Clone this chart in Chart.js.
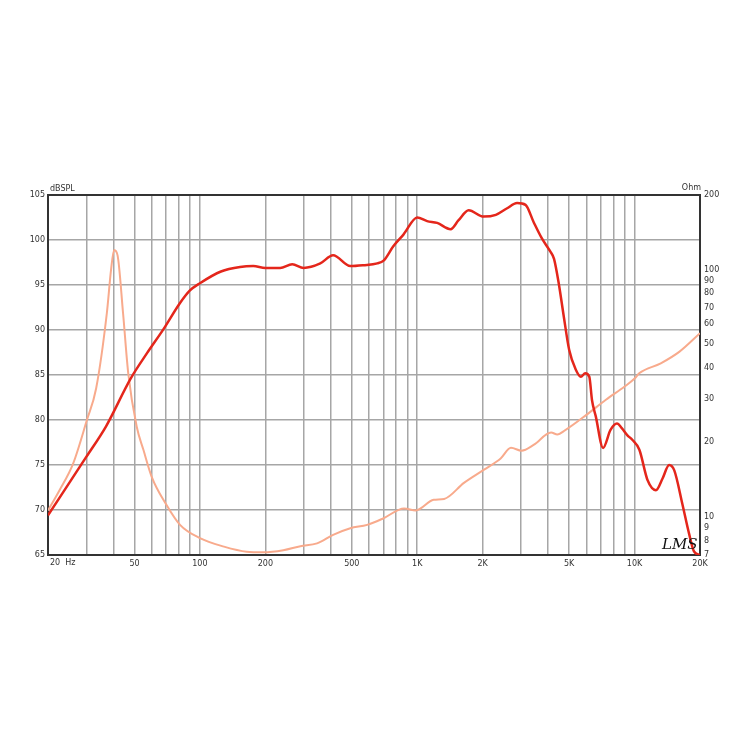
<!DOCTYPE html>
<html>
<head>
<meta charset="utf-8">
<script src="https://cdn.jsdelivr.net/npm/chart.js@4/dist/chart.umd.min.js"></script>
<style>
  html, body { margin: 0; padding: 0; background: #fff; }
  #wrap { width: 750px; height: 750px; }
</style>
</head>
<body>
<div id="wrap"><canvas id="chartCanvas" width="750" height="750"></canvas></div>
<script>
// SPL curve (left axis, dB)
const splFreq = [20, 30, 37, 48, 57, 68, 81, 90, 100, 125, 153, 176, 200, 234, 266, 300, 358, 410, 492, 566, 655, 700, 776, 864, 1000, 1110, 1235, 1425, 1550, 1724, 2020, 2300, 2580, 2880, 3150, 3430, 3740, 4100, 4260, 4490, 4710, 5000, 5360, 5660, 5930, 6190, 6370, 6630, 7160, 7750, 8300, 8730, 9270, 9760, 10520, 11480, 12540, 13450, 14420, 15230, 16580, 17800, 18760, 20000];
const splValues = [69.4, 75.9, 79.3, 84.6, 87.4, 90.1, 93.0, 94.4, 95.2, 96.5, 97.0, 97.1, 96.9, 96.9, 97.3, 96.9, 97.4, 98.3, 97.1, 97.2, 97.4, 97.7, 99.3, 100.6, 102.5, 102.1, 101.9, 101.2, 102.2, 103.3, 102.6, 102.8, 103.5, 104.1, 103.9, 102.0, 100.2, 98.7, 97.9, 95.0, 91.7, 87.8, 85.6, 84.8, 85.2, 84.8, 82.2, 80.4, 76.9, 78.9, 79.6, 79.1, 78.3, 77.8, 76.7, 73.3, 72.2, 73.5, 75.0, 74.4, 70.7, 67.4, 65.4, 65.0];

// Impedance curve (right axis, Ohm)
const impFreq = [20, 22.6, 26.1, 30.2, 33.3, 37.3, 39.0, 40.3, 41.8, 44.3, 46.8, 51.2, 55, 60, 70, 81, 100, 129, 164, 196, 242, 290, 346, 410, 492, 588, 700, 870, 985, 1190, 1330, 1640, 2030, 2420, 2700, 3020, 3430, 4130, 4410, 4800, 6000, 7380, 9000, 10030, 10500, 13200, 16100, 20000];
const impValues = [10.6, 12.8, 16.4, 24.6, 33, 66.5, 99.5, 119.9, 114, 66.5, 38, 23.1, 18.6, 14.5, 11.2, 9.27, 8.19, 7.57, 7.22, 7.18, 7.32, 7.6, 7.8, 8.44, 8.98, 9.27, 9.86, 10.8, 10.6, 11.7, 11.8, 13.7, 15.5, 17.2, 19.0, 18.5, 19.5, 21.9, 21.5, 22.4, 25.8, 29.7, 33.6, 36.3, 38, 41.7, 46.5, 55.2];

// tick positions
const freqTicks = [20, 30, 40, 50, 60, 70, 80, 90, 100, 200, 300, 400, 500, 600, 700, 800, 900, 1000, 2000, 3000, 4000, 5000, 6000, 7000, 8000, 9000, 10000, 20000];
const freqLabels = { 50: "50", 100: "100", 200: "200", 500: "500", 1000: "1K", 2000: "2K", 5000: "5K", 10000: "10K", 20000: "20K" };
const ohmTicks = [7, 8, 9, 10, 20, 30, 40, 50, 60, 70, 80, 90, 100, 200];

const tickFont = { family: "DejaVu Sans", size: 8 };
const tickColor = "#333";

// 額外文字：軸標題與簽名
const labelsPlugin = {
	id: "extraLabels",
	afterDraw(chart) {
		const c = chart.ctx;
		const area = chart.chartArea;
		c.save();
		c.fillStyle = tickColor;
		c.font = "8px 'DejaVu Sans'";
		c.textBaseline = "bottom";
		c.textAlign = "left";
		c.fillText("dBSPL", area.left + 2, area.top - 2);
		c.textAlign = "right";
		c.fillText("Ohm", area.right + 1, area.top - 3);
		c.textAlign = "left";
		c.textBaseline = "top";
		c.fillText("20  Hz", area.left + 2, area.bottom + 4);
		c.fillStyle = "#111";
		c.font = "italic 15px 'DejaVu Serif'";
		c.textBaseline = "alphabetic";
		c.fillText("LMS", area.right - 38, area.bottom - 6);
		c.restore();
	},
};

const ctx = document.getElementById("chartCanvas").getContext("2d");
const chart = new Chart(ctx, {
	type: "line",
	data: {
		datasets: [
			{
				label: "SPL",
				data: splFreq.map((f, i) => ({ x: f, y: splValues[i] })),
				borderColor: "#e4261b",
				borderWidth: 2.5,
				pointRadius: 0,
				cubicInterpolationMode: "monotone",
				yAxisID: "y",
				order: 0,
			},
			{
				label: "Impedance",
				data: impFreq.map((f, i) => ({ x: f, y: impValues[i] })),
				borderColor: "#f8aa8c",
				borderWidth: 2,
				pointRadius: 0,
				cubicInterpolationMode: "monotone",
				yAxisID: "y2",
				order: 1,
			},
		],
	},
	options: {
		responsive: false,
		animation: false,
		devicePixelRatio: 1,
		layout: { padding: { top: 195, left: 0, right: 0, bottom: 0 } },
		plugins: {
			legend: { display: false },
			tooltip: { enabled: false },
		},
		scales: {
			x: {
				type: "logarithmic",
				min: 20,
				max: 20000,
				afterBuildTicks: (s) => { s.ticks = freqTicks.map((v) => ({ value: v })); },
				afterFit: (s) => { s.height = 195; },
				ticks: {
					autoSkip: false,
					maxRotation: 0,
					padding: 4,
					font: tickFont,
					color: tickColor,
					callback: (v) => freqLabels[v] || "",
				},
				grid: { color: "#a6a6a6", lineWidth: 1.5, tickLength: 0 },
				border: { display: true, color: "#333", width: 2 },
			},
			y: {
				type: "linear",
				position: "left",
				min: 65,
				max: 105,
				afterFit: (s) => { s.width = 48; },
				ticks: { stepSize: 5, font: tickFont, color: tickColor, padding: 3 },
				grid: {
					color: (c) => (c.tick && c.tick.value === 105 ? "#333" : "#a6a6a6"),
					lineWidth: (c) => (c.tick && c.tick.value === 105 ? 2 : 1.5),
					tickLength: 0,
				},
				border: { display: true, color: "#333", width: 2 },
			},
			y2: {
				type: "logarithmic",
				position: "right",
				min: 7,
				max: 200,
				afterBuildTicks: (s) => { s.ticks = ohmTicks.map((v) => ({ value: v })); },
				afterFit: (s) => { s.width = 50; },
				ticks: {
					autoSkip: false,
					font: tickFont,
					color: tickColor,
					padding: 4,
					callback: (v) => String(v),
				},
				grid: { display: false, tickLength: 0 },
				border: { display: true, color: "#333", width: 2 },
			},
		},
	},
	plugins: [labelsPlugin],
});
</script>
</body>
</html>
